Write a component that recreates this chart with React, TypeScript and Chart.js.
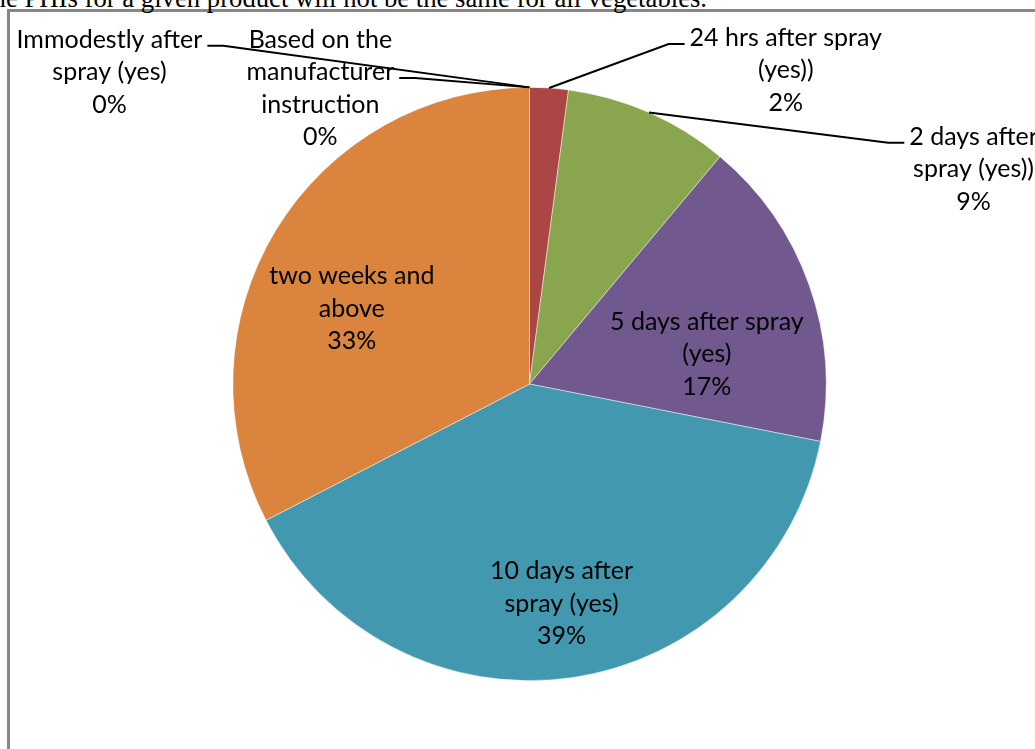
import React, { useEffect, useRef } from "react";
import { Chart, registerables } from "chart.js";

Chart.register(...registerables);

// ---- data ----
const categories = [
  "Immodestly after spray (yes)",
  "Based on the manufacturer instruction",
  "24 hrs after spray (yes))",
  "2 days after spray (yes))",
  "5 days after spray (yes)",
  "10 days after spray (yes)",
  "two weeks and above",
];
const labelLines = [
  ["Immodestly after", "spray (yes)"],
  ["Based on the", "manufacturer", "instruction"],
  ["24 hrs after spray", "(yes))"],
  ["2 days after", "spray (yes))"],
  ["5 days after spray", "(yes)"],
  ["10 days after", "spray (yes)"],
  ["two weeks and", "above"],
];
const shares = [0, 0, 2.1, 9.0, 17.0, 39.3, 32.6];
const sliceColors = ["#4572A7", "#93A9CF", "#AA4643", "#89A54E", "#71588F", "#4198AF", "#DB843D"];
const headerText = "the PHIs for a given product will not be the same for all vegetables.";

// label placement relative to pie centre, in units of radius
const labelPlacement = [
  { dx: -1.416, dy: -1.024, leader: "right", line: 0 },
  { dx: -0.705, dy: -0.97, leader: "right", line: 1 },
  { dx: 0.864, dy: -1.03, leader: "left", line: 0 },
  { dx: 1.497, dy: -0.697, leader: "left", line: 0 },
  { dx: 0.598, dy: -0.074 },
  { dx: 0.108, dy: 0.768 },
  { dx: -0.599, dy: -0.226 },
];

const FONT = '25px Lato, "Open Sans", sans-serif';
const LINE_H = 32.5;

const pieLabelsPlugin = {
  id: "pieLabels",
  afterDatasetsDraw(chart: any) {
    const ctx = chart.ctx;
    const meta = chart.getDatasetMeta(0);
    const total = shares.reduce((a, b) => a + b, 0);
    ctx.save();
    ctx.font = FONT;
    ctx.textAlign = "center";
    ctx.textBaseline = "alphabetic";
    meta.data.forEach((arc: any, i: number) => {
      const { x, y, startAngle, endAngle, outerRadius } = arc.getProps(
        ["x", "y", "startAngle", "endAngle", "outerRadius"],
        true
      );
      const pct = Math.round((shares[i] / total) * 100) + "%";
      const lines = [...labelLines[i], pct];
      const pos: any = labelPlacement[i];
      const cx = x + pos.dx * outerRadius;
      const cy = y + pos.dy * outerRadius;
      const n = lines.length;
      if (pos.leader) {
        const k = pos.line;
        const ly = cy + (k - (n - 1) / 2) * LINE_H - 2;
        const w = ctx.measureText(lines[k]).width;
        const sx = pos.leader === "right" ? cx + w / 2 + 5 : cx - w / 2 - 5;
        const bx = pos.leader === "right" ? sx + 16 : sx - 16;
        const mid = (startAngle + endAngle) / 2;
        const ex = x + Math.cos(mid) * outerRadius;
        const ey = y + Math.sin(mid) * outerRadius;
        ctx.beginPath();
        ctx.moveTo(sx, ly);
        ctx.lineTo(bx, ly);
        ctx.lineTo(ex, ey);
        ctx.lineWidth = 2;
        ctx.strokeStyle = "#000";
        ctx.stroke();
      }
      ctx.fillStyle = "#000";
      lines.forEach((t, k) => ctx.fillText(t, cx, cy + (k - (n - 1) / 2) * LINE_H));
    });
    ctx.restore();
  },
};

export default function App() {
  const canvasRef = useRef<HTMLCanvasElement | null>(null);

  useEffect(() => {
    if (!canvasRef.current) return;
    const chart = new Chart(canvasRef.current, {
      type: "pie",
      data: {
        labels: categories,
        datasets: [
          {
            data: shares,
            backgroundColor: sliceColors,
            borderColor: "rgba(255,255,255,0.6)",
            borderWidth: 0.75,
          },
        ],
      },
      options: {
        responsive: false,
        animation: false,
        devicePixelRatio: 1,
        layout: { padding: { left: 232.5, right: 208.5, top: 87, bottom: 68 } },
        plugins: {
          legend: { display: false },
          title: { display: false },
          tooltip: { enabled: false },
        },
      },
      plugins: [pieLabelsPlugin],
    });
    if ((document as any).fonts && (document as any).fonts.ready) {
      (document as any).fonts.ready.then(() => chart.draw());
    }
    return () => chart.destroy();
  }, []);

  return (
    <div
      style={{
        position: "fixed",
        left: 0,
        top: 0,
        width: 1035,
        height: 749,
        overflow: "hidden",
        background: "#fff",
      }}
    >
      <div
        style={{
          position: "absolute",
          left: 7,
          top: 9,
          width: 1200,
          height: 900,
          borderLeft: "3px solid #878787",
          borderTop: "3px solid #878787",
        }}
      />
      <div
        style={{
          position: "absolute",
          left: -14.8,
          top: -15.3,
          fontFamily: '"Liberation Serif", "Times New Roman", serif',
          fontSize: "26.7px",
          lineHeight: "26.7px",
          whiteSpace: "nowrap",
          color: "#000",
        }}
      >
        {headerText}
      </div>
      <canvas
        ref={canvasRef}
        width={1035}
        height={749}
        style={{ position: "absolute", left: 0, top: 0, width: 1035, height: 749 }}
      />
    </div>
  );
}
